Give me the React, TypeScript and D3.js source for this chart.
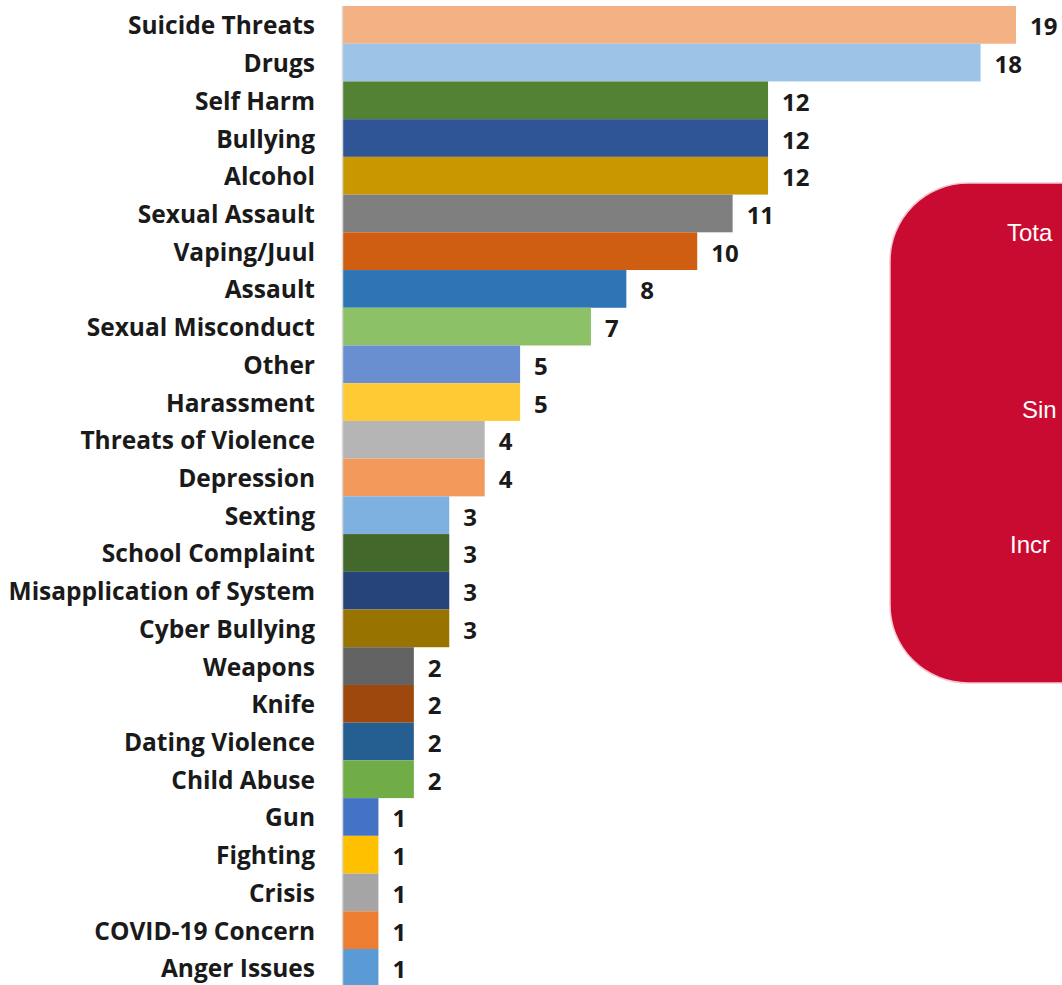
import React, { useEffect, useRef } from 'react';
import * as d3 from 'd3';

const categories = [
  'Suicide Threats', 'Drugs', 'Self Harm', 'Bullying', 'Alcohol', 'Sexual Assault',
  'Vaping/Juul', 'Assault', 'Sexual Misconduct', 'Other', 'Harassment',
  'Threats of Violence', 'Depression', 'Sexting', 'School Complaint',
  'Misapplication of System', 'Cyber Bullying', 'Weapons', 'Knife',
  'Dating Violence', 'Child Abuse', 'Gun', 'Fighting', 'Crisis',
  'COVID-19 Concern', 'Anger Issues',
];

const counts = [19, 18, 12, 12, 12, 11, 10, 8, 7, 5, 5, 4, 4, 3, 3, 3, 3, 2, 2, 2, 2, 1, 1, 1, 1, 1];

const barColors = [
  '#F4B183', '#9DC3E6', '#548235', '#2F5597', '#C99700', '#7F7F7F',
  '#CF5E12', '#2E75B6', '#8DC168', '#6A8FD0', '#FFCA33',
  '#B5B5B5', '#F29A5B', '#7EB1E0', '#43682B',
  '#264478', '#997300', '#636363', '#9E480E',
  '#255E91', '#70AD47', '#4472C4', '#FFC000', '#A5A5A5',
  '#ED7D31', '#5B9BD5',
];

// callout text, only the part that is visible inside the page
const boxLines = ['Tota', 'Sin', 'Incr'];

export default function App() {
  const svgRef = useRef<SVGSVGElement | null>(null);
  const width = 1062;
  const height = 985;

  useEffect(() => {
    const svg = d3.select(svgRef.current);
    svg.selectAll('*').remove();

    const y = d3.scaleBand<string>()
      .domain(categories)
      .range([6, 6 + categories.length * 37.72])
      .padding(0);

    const x = d3.scaleLinear().domain([0, 19]).range([343, 1016]);

    const rows = categories.map((c, i) => ({ c, v: counts[i], color: barColors[i] }));
    const font = '"Open Sans", Lato, sans-serif';

    // bars
    svg.append('g')
      .selectAll('rect')
      .data(rows).enter().append('rect')
      .attr('x', x(0))
      .attr('y', d => y(d.c)!)
      .attr('width', d => x(d.v) - x(0))
      .attr('height', y.bandwidth())
      .attr('fill', d => d.color);

    // axis line
    svg.append('line')
      .attr('x1', x(0) - 0.5).attr('x2', x(0) - 0.5)
      .attr('y1', 6).attr('y2', height)
      .attr('stroke', '#d9d9d9')
      .attr('stroke-width', 1.5);

    // category labels
    svg.append('g')
      .selectAll('text')
      .data(rows).enter().append('text')
      .attr('x', 315)
      .attr('y', d => y(d.c)! + y.bandwidth() / 2)
      .attr('text-anchor', 'end')
      .attr('dominant-baseline', 'central')
      .attr('font-family', font)
      .attr('font-weight', 700)
      .attr('font-size', 24.5)
      .attr('fill', '#1a1a1a')
      .text(d => d.c);

    // value labels
    svg.append('g')
      .selectAll('text')
      .data(rows).enter().append('text')
      .attr('x', d => x(d.v) + 14)
      .attr('y', d => y(d.c)! + y.bandwidth() / 2 + 1)
      .attr('dominant-baseline', 'central')
      .attr('font-family', font)
      .attr('font-weight', 700)
      .attr('font-size', 24)
      .attr('fill', '#1a1a1a')
      .text(d => d.v);

    // red callout box
    const box = svg.append('g');
    box.append('rect')
      .attr('x', 890).attr('y', 183)
      .attr('width', 300).attr('height', 500)
      .attr('rx', 78).attr('ry', 78)
      .attr('fill', '#CA0B31')
      .attr('stroke', '#f4c6cf')
      .attr('stroke-width', 1.5);

    const lineY = [232, 409, 544];
    const lineX = [1007, 1022, 1010];
    box.selectAll('text')
      .data(boxLines).enter().append('text')
      .attr('x', (_, i) => lineX[i])
      .attr('y', (_, i) => lineY[i])
      .attr('dominant-baseline', 'central')
      .attr('font-family', '"Liberation Sans", Arial, sans-serif')
      .attr('font-size', 24)
      .attr('fill', '#ffffff')
      .text(d => d);
  }, []);

  return (
    <div style={{ position: 'absolute', left: 0, top: 0, width, height, overflow: 'hidden' }}>
      <svg ref={svgRef} width={width} height={height} style={{ display: 'block', background: '#ffffff' }} />
    </div>
  );
}
